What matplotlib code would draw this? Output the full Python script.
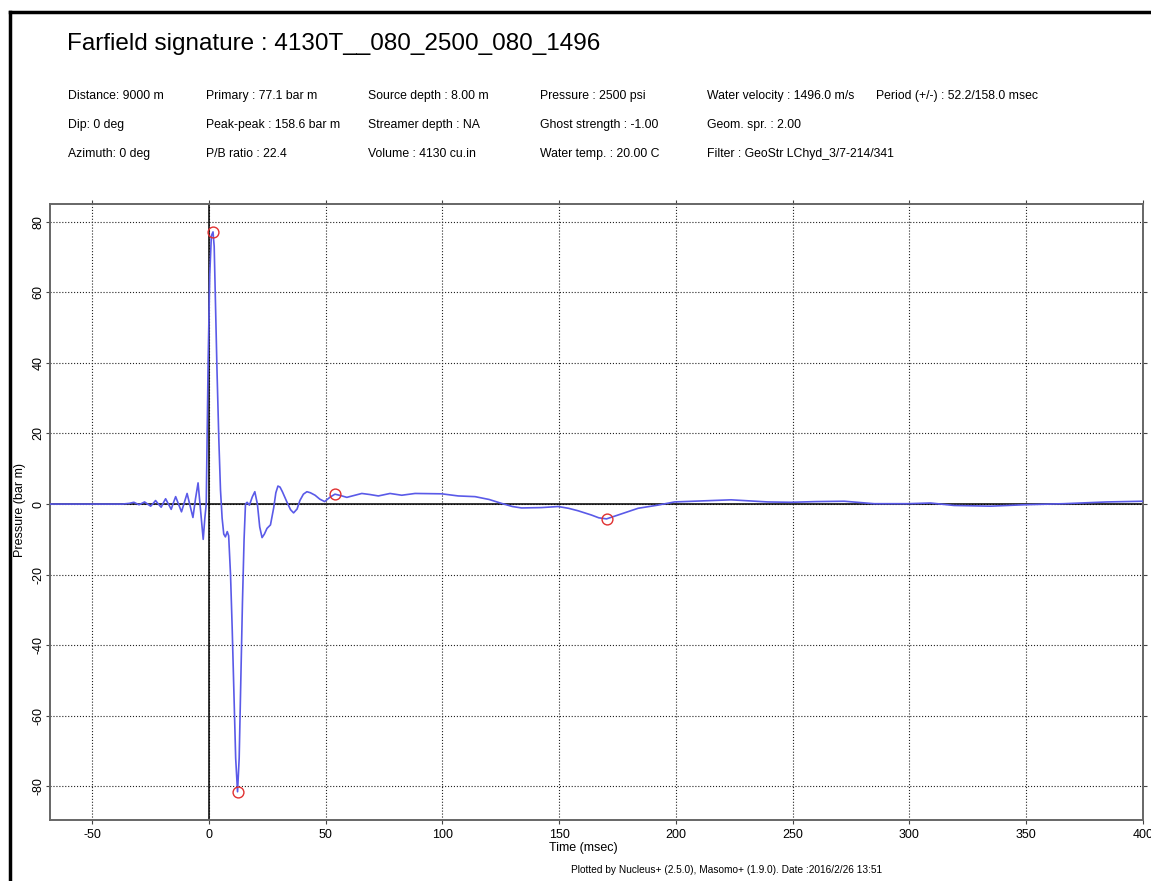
import matplotlib
matplotlib.use("Agg")
import matplotlib.pyplot as plt
from matplotlib.lines import Line2D

plt.rcParams['font.family'] = ['Liberation Sans', 'DejaVu Sans']
plt.rcParams['axes.unicode_minus'] = False

# farfield signature, time in msec, pressure in bar m
time_ms = [
    -68, -50, -40, -37, -34, -32.1, -30.9, -29.9, -28.7, -27.5, -26.2, -24.9,
    -23.8, -22.8, -21.6, -20.4, -19.5, -18.5, -17.3, -16.1, -15.2, -14.2,
    -13.0, -11.7, -10.5, -9.3, -8.0, -6.8, -5.7, -4.6, -3.5, -2.4, -1.7,
    -1.1, -0.3, 0.4, 1.1, 1.8, 2.3, 2.8, 3.5, 4.3, 5.0, 5.7, 6.4, 7.1, 7.9,
    8.5, 9.3, 10.0, 10.8, 11.5, 12.3, 13.0, 13.7, 14.4, 15.1, 15.7, 16.4,
    17.4, 18.6, 19.7, 20.8, 21.8, 22.8, 23.8, 24.9, 26.4, 27.8, 28.7, 29.6,
    30.5, 31.5, 33.5, 35.0, 36.3, 37.8, 39.0, 40.5, 42.0, 43.5, 45.5, 47.5,
    49.6, 52.0, 54.0, 56.5, 59.1, 62.0, 65.5, 69.0, 72.6, 77.6, 82.6, 88.3,
    99.7, 106.8, 114.0, 120.0, 125.3, 130.0, 133.9, 142.4, 149.6, 154.0,
    158.1, 163.8, 167.0, 170.3, 175.2, 183.8, 192.3, 199.4, 209.4, 223.6,
    239.3, 249.3, 260.0, 272.1, 284.9, 299.1, 309.0, 319.1, 334.8, 349.0,
    366.0, 384.6, 398.7, 400,
]
pressure = [
    0, 0, 0, 0, 0.2, 0.5, 0.1, -0.2, 0.2, 0.6, 0.0, -0.6,
    0.2, 1.0, 0.0, -0.9, 0.3, 1.5, 0.0, -1.5, 0.3, 2.1,
    0.0, -2.2, 0.4, 3.0, -0.5, -3.8, 1.5, 6.0, -2.0, -10.0, -4.0,
    0.0, 40.0, 65.0, 76.0, 77.1, 73.0, 58.0, 38.0, 18.0, 4.0, -4.0, -8.5, -9.3, -7.8,
    -9.0, -20.0, -35.0, -55.0, -72.0, -81.5, -72.0, -50.0, -28.0, -10.0, 0.0, 0.5,
    -0.3, 2.0, 3.5, 0.0, -6.5, -9.5, -8.5, -6.9, -5.9, -1.0, 3.2, 5.1,
    4.8, 3.5, 0.5, -1.6, -2.5, -1.4, 1.0, 2.8, 3.5, 3.2, 2.5, 1.4,
    0.7, 2.0, 2.8, 2.4, 1.9, 2.4, 3.0, 2.7, 2.3, 3.0, 2.5, 3.0,
    2.9, 2.3, 2.1, 1.3, 0.2, -0.7, -1.1, -1.0, -0.7, -1.2,
    -1.9, -3.1, -3.9, -4.2, -3.1, -1.2, -0.3, 0.6, 0.85, 1.2,
    0.6, 0.5, 0.7, 0.8, 0.1, 0.1, 0.3, -0.4, -0.6, -0.2,
    0.1, 0.6, 0.8, 0.8,
]

# primary peak, trough, bubble (+) and bubble (-)
pick_t = [1.8, 12.3, 54.0, 170.3]
pick_p = [77.1, -81.5, 2.8, -4.2]

x_ticks = [-50, 0, 50, 100, 150, 200, 250, 300, 350, 400]
y_ticks = [-80, -60, -40, -20, 0, 20, 40, 60, 80]

title = "Farfield signature : 4130T__080_2500_080_1496"
info_cols = [
    ["Distance: 9000 m", "Dip: 0 deg", "Azimuth: 0 deg"],
    ["Primary : 77.1 bar m", "Peak-peak : 158.6 bar m", "P/B ratio : 22.4"],
    ["Source depth : 8.00 m", "Streamer depth : NA", "Volume : 4130 cu.in"],
    ["Pressure : 2500 psi", "Ghost strength : -1.00", "Water temp. : 20.00 C"],
    ["Water velocity : 1496.0 m/s", "Geom. spr. : 2.00", "Filter : GeoStr LChyd_3/7-214/341"],
    ["Period (+/-) : 52.2/158.0 msec", "", ""],
]
footer = "Plotted by Nucleus+ (2.5.0), Masomo+ (1.9.0). Date :2016/2/26 13:51"

W, H = 1151, 881
fig = plt.figure(figsize=(W / 100, H / 100), dpi=100)


def px(x, y):
    return x / W, 1 - y / H


# frame lines on the sheet
fig.add_artist(Line2D([10 / W, 10 / W], [0, 1 - 12 / H], color='black', lw=2.5,
                      transform=fig.transFigure))
fig.add_artist(Line2D([10 / W, 1], [1 - 12 / H, 1 - 12 / H], color='black', lw=2.5,
                      transform=fig.transFigure))

# header
fig.text(*px(67, 50), title, fontsize=17.5, va='baseline', ha='left')
col_x = [68, 206, 368, 540, 707, 876]
row_y = [99, 128, 157]
for cx, col in zip(col_x, info_cols):
    for ry, s in zip(row_y, col):
        if s:
            fig.text(*px(cx, ry), s, fontsize=8.8, va='baseline', ha='left')

ax = fig.add_axes([50 / W, 1 - 820 / H, (1143 - 50) / W, (820 - 204) / H])
ax.plot(time_ms, pressure, color='#5a5ae8', lw=1.2, zorder=3)
ax.plot(pick_t, pick_p, 'o', mfc='none', mec='#e03030', ms=7.8, mew=1.0, zorder=4)
ax.axhline(0, color='black', lw=1.1, zorder=2)
ax.axvline(0, color='black', lw=1.1, zorder=2)

ax.set_xlim(-68, 400)
ax.set_ylim(-89.5, 85)
ax.set_xticks(x_ticks)
ax.set_yticks(y_ticks)
ax.grid(True, linestyle=':', color='#222222', lw=0.8)
ax.set_axisbelow(True)
ax.tick_params(direction='out', length=3, width=0.8, labelsize=9,
               right=True, top=True, color='#444444')
ax.tick_params(axis='y', pad=1)
for lab in ax.get_yticklabels():
    lab.set_rotation(90)
    lab.set_va('center')
for sp in ax.spines.values():
    sp.set_color('#666666')
    sp.set_linewidth(1.4)

fig.text(*px(20, 510), "Pressure (bar m)", fontsize=9, rotation=90,
         ha='center', va='center')
fig.text(*px(583, 848), "Time (msec)", fontsize=9, ha='center', va='center')
fig.text(*px(727, 870), footer, fontsize=7.3, ha='center', va='center')

fig.savefig("out.png", dpi=100)
